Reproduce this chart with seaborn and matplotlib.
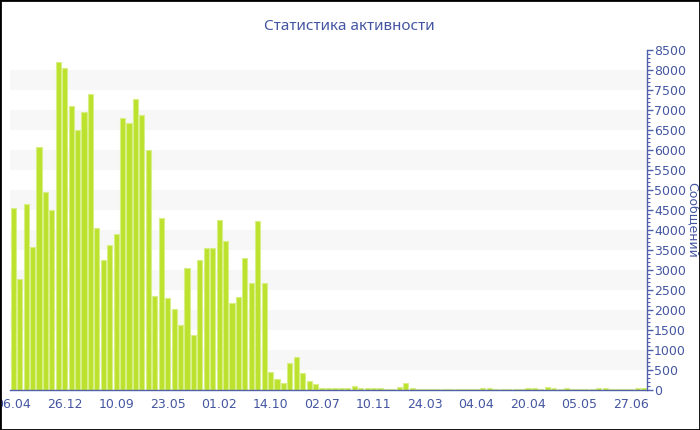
"""
Activity statistics chart: messages per period as a bar chart.
"""

import numpy as np
import pandas as pd
import matplotlib
matplotlib.use('Agg')
import matplotlib.pyplot as plt
from matplotlib.patches import Rectangle
from matplotlib.ticker import MultipleLocator
import seaborn as sns

# Messages per period
messages = [
    4550, 2780, 4650, 3580, 6080, 4950, 4500, 8210, 8050, 7110,
    6510, 6940, 7410, 4060, 3260, 3620, 3890, 6810, 6680, 7270,
    6880, 5990, 2340, 4300, 2300, 2020, 1620, 3040, 1380, 3250,
    3540, 3540, 4260, 3730, 2170, 2330, 3300, 2670, 4230, 2680,
    450, 280, 180, 680, 820, 430, 235, 140, 60, 50,
    60, 50, 60, 100, 40, 50, 60, 40, 35, 35,
    70, 170, 55, 35, 30, 30, 35, 30, 30, 25,
    30, 30, 35, 60, 40, 35, 30, 30, 35, 30,
    40, 45, 35, 80, 40, 35, 45, 30, 35, 30,
    30, 40, 40, 30, 35, 30, 35, 50, 50,
]
tick_labels = ['06.04', '26.12', '10.09', '23.05', '01.02', '14.10', '02.07',
               '10.11', '24.03', '04.04', '20.04', '05.05', '27.06']
tick_step = 8

title = 'Статистика активности'
ylabel = 'Сообщений'

bar_color = '#bde22e'
edge_color = '#d8ee86'
axis_color = '#5061aa'
text_color = '#4456a2'
band_color = '#f7f7f7'

df = pd.DataFrame({'idx': np.arange(len(messages)), 'messages': messages})

sns.set_style('white')
plt.rcParams['font.family'] = ['DejaVu Sans']

fig = plt.figure(figsize=(7, 4.3), dpi=100)
ax = fig.add_axes([10 / 700, 1 - 390 / 430, 637 / 700, 340 / 430])

# Alternating horizontal bands
for lo in range(500, 8500, 1000):
    ax.axhspan(lo, lo + 500, color=band_color, zorder=0, lw=0)

sns.barplot(data=df, x='idx', y='messages', color=bar_color, width=0.8,
            edgecolor=edge_color, linewidth=0.8, saturation=1, ax=ax, zorder=2)

ax.set_xlim(-0.5, len(messages) - 0.5)
ax.set_ylim(0, 8500)

# X axis (first label is clipped at the left edge, as in the original)
ax.set_xticks(range(0, len(tick_labels) * tick_step, tick_step))
ax.set_xticklabels(tick_labels)
ax.set_xlabel('')

# Y axis on the right
ax.yaxis.tick_right()
ax.yaxis.set_major_locator(MultipleLocator(500))
ax.yaxis.set_minor_locator(MultipleLocator(100))
ax.set_ylabel(ylabel, rotation=-90, color=text_color, fontsize=9,
              va='center', ha='center')
ax.yaxis.set_label_coords(1.072, 0.5)

for side in ['top', 'left']:
    ax.spines[side].set_visible(False)
for side in ['bottom', 'right']:
    ax.spines[side].set_color(axis_color)
    ax.spines[side].set_linewidth(1)
    ax.spines[side].set_zorder(3)

ax.tick_params(axis='x', which='major', direction='out', length=4, width=1,
               color=axis_color, labelcolor=text_color, labelsize=9, pad=2)
ax.tick_params(axis='y', which='major', direction='out', length=4, width=1,
               color=axis_color, labelcolor=text_color, labelsize=9, pad=1,
               right=True, left=False)
ax.tick_params(axis='y', which='minor', direction='out', length=2.5, width=0.8,
               color=axis_color, right=True, left=False)

fig.text(349 / 700, 1 - 27 / 430, title, ha='center', va='center',
         fontsize=11, color=text_color, family=['Noto Sans', 'DejaVu Sans'])

# Figure border
fig.patches.append(Rectangle((0, 0), 1, 1, transform=fig.transFigure,
                             fill=False, edgecolor='black', linewidth=2))

fig.savefig('out.png', dpi=100)
